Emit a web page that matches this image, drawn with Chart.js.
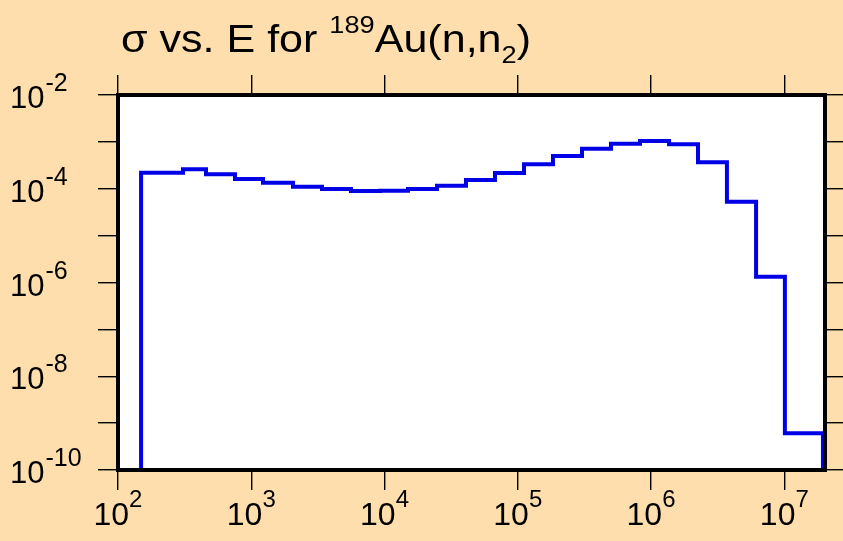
<!DOCTYPE html>
<html>
<head>
<meta charset="utf-8">
<script src="https://cdn.jsdelivr.net/npm/chart.js@4.4.1/dist/chart.umd.min.js"></script>
<style>
  html, body { margin: 0; padding: 0; background: #FFDEAD; }
  canvas { display: block; }
</style>
</head>
<body>
<canvas id="sigmaChart" width="843" height="541"></canvas>
<script>
// bin edges (eV) and cross sections (b) for the step histogram
const binEdges = [149, 307.5, 457.5, 755, 1225, 2056, 3395, 5600, 9250, 15000, 24770, 40850,
    67450, 111400, 183700, 303300, 500800, 826600, 1.365e6, 2.25e6, 3.71e6, 6.14e6, 1.01e7, 1.95e7];
const sigma = [2.20e-4, 2.60e-4, 2.03e-4, 1.61e-4, 1.35e-4, 1.11e-4, 9.9e-5, 8.95e-5, 9.08e-5,
    9.9e-5, 1.16e-4, 1.54e-4, 2.17e-4, 3.33e-4, 5.00e-4, 7.15e-4, 9.14e-4, 1.04e-3, 8.87e-4,
    3.66e-4, 5.30e-5, 1.33e-6, 6.07e-10];

const xTicks = [1e2, 1e3, 1e4, 1e5, 1e6, 1e7];
const xLabelExps = [2, 3, 4, 5, 6, 7];
const yTicks = [1e-10, 1e-9, 1e-8, 1e-7, 1e-6, 1e-5, 1e-4, 1e-3, 1e-2];
const yLabelExps = [-2, -4, -6, -8, -10];

const xMin = 100, xMax = 2.02e7;
const yMin = 1e-10, yMax = 1e-2;

const FONT = '"Liberation Sans", Arial, sans-serif';
const BG = '#FFDEAD';

// step outline points
const pts = [{ x: binEdges[0], y: yMin }];
sigma.forEach((v, i) => pts.push({ x: binEdges[i], y: v }));
pts.push({ x: binEdges[binEdges.length - 1], y: sigma[sigma.length - 1] });
pts.push({ x: binEdges[binEdges.length - 1], y: yMin });

const decadeTicks = vals => scale => { scale.ticks = vals.map(v => ({ value: v })); };

const tickGrid = len => ({
    drawOnChartArea: false,
    drawTicks: true,
    tickLength: len,
    color: '#000',
    lineWidth: 1.4
});

const framePlugin = {
    id: 'frame',
    beforeDraw(chart) {
        const { ctx, chartArea: a } = chart;
        ctx.save();
        ctx.fillStyle = BG;
        ctx.fillRect(0, 0, chart.width, chart.height);
        ctx.fillStyle = '#fff';
        ctx.fillRect(a.left, a.top, a.right - a.left, a.bottom - a.top);
        ctx.restore();
    },
    afterDraw(chart) {
        const { ctx, chartArea: a, scales } = chart;
        ctx.save();
        ctx.strokeStyle = '#000';
        ctx.lineWidth = 4;
        ctx.strokeRect(a.left, a.top, a.right - a.left, a.bottom - a.top);

        ctx.fillStyle = '#000';
        ctx.textBaseline = 'alphabetic';

        // title, slightly widened to match the original lettering
        const parts = [
            ['\u03c3 vs. E for ', 38, 52],
            ['189', 24, 33],
            ['Au(n,n', 38, 52],
            ['2', 24, 63],
            [')', 38, 52]
        ];
        let total = 0;
        parts.forEach(p => { ctx.font = p[1] + 'px ' + FONT; total += ctx.measureText(p[0]).width; });
        const sx = 410 / total;
        ctx.save();
        ctx.translate(121, 0);
        ctx.scale(sx, 1);
        let x = 0;
        parts.forEach(p => {
            ctx.font = p[1] + 'px ' + FONT;
            ctx.fillText(p[0], x, p[2]);
            x += ctx.measureText(p[0]).width;
        });
        ctx.restore();

        // x tick labels
        xLabelExps.forEach(e => {
            const px = scales.x.getPixelForValue(Math.pow(10, e));
            ctx.font = '32px ' + FONT;
            const w1 = ctx.measureText('10').width;
            ctx.font = '24px ' + FONT;
            const w2 = ctx.measureText(String(e)).width;
            const x0 = px - (w1 + w2) / 2;
            ctx.font = '32px ' + FONT;
            ctx.fillText('10', x0, 525);
            ctx.font = '24px ' + FONT;
            ctx.fillText(String(e), x0 + w1, 507);
        });

        // y tick labels
        yLabelExps.forEach(e => {
            const py = scales.y.getPixelForValue(Math.pow(10, e));
            ctx.font = '31px ' + FONT;
            ctx.fillText('10', 10, py + 13);
            const w1 = ctx.measureText('10').width;
            ctx.font = '25px ' + FONT;
            ctx.fillText(String(e), 11 + w1, py - 4);
        });
        ctx.restore();
    }
};

new Chart(document.getElementById('sigmaChart').getContext('2d'), {
    type: 'line',
    data: {
        datasets: [{
            data: pts,
            stepped: true,
            borderColor: '#0000E6',
            borderWidth: 4,
            pointRadius: 0,
            fill: false,
            xAxisID: 'x',
            yAxisID: 'y'
        }]
    },
    options: {
        responsive: false,
        animation: false,
        layout: { padding: { top: 75, bottom: 51, left: 98, right: 0 } },
        plugins: {
            legend: { display: false },
            title: { display: false },
            tooltip: { enabled: false }
        },
        scales: {
            x: {
                type: 'logarithmic', position: 'bottom', min: xMin, max: xMax,
                afterBuildTicks: decadeTicks(xTicks),
                ticks: { display: false },
                grid: tickGrid(20),
                border: { display: false }
            },
            x2: {
                type: 'logarithmic', position: 'top', min: xMin, max: xMax,
                afterBuildTicks: decadeTicks(xTicks),
                ticks: { display: false },
                grid: tickGrid(20),
                border: { display: false }
            },
            y: {
                type: 'logarithmic', position: 'left', min: yMin, max: yMax,
                afterBuildTicks: decadeTicks(yTicks),
                ticks: { display: false },
                grid: tickGrid(20),
                border: { display: false }
            },
            y2: {
                type: 'logarithmic', position: 'right', min: yMin, max: yMax,
                afterBuildTicks: decadeTicks(yTicks),
                ticks: { display: false },
                grid: tickGrid(18),
                border: { display: false }
            }
        }
    },
    plugins: [framePlugin]
});
</script>
</body>
</html>
